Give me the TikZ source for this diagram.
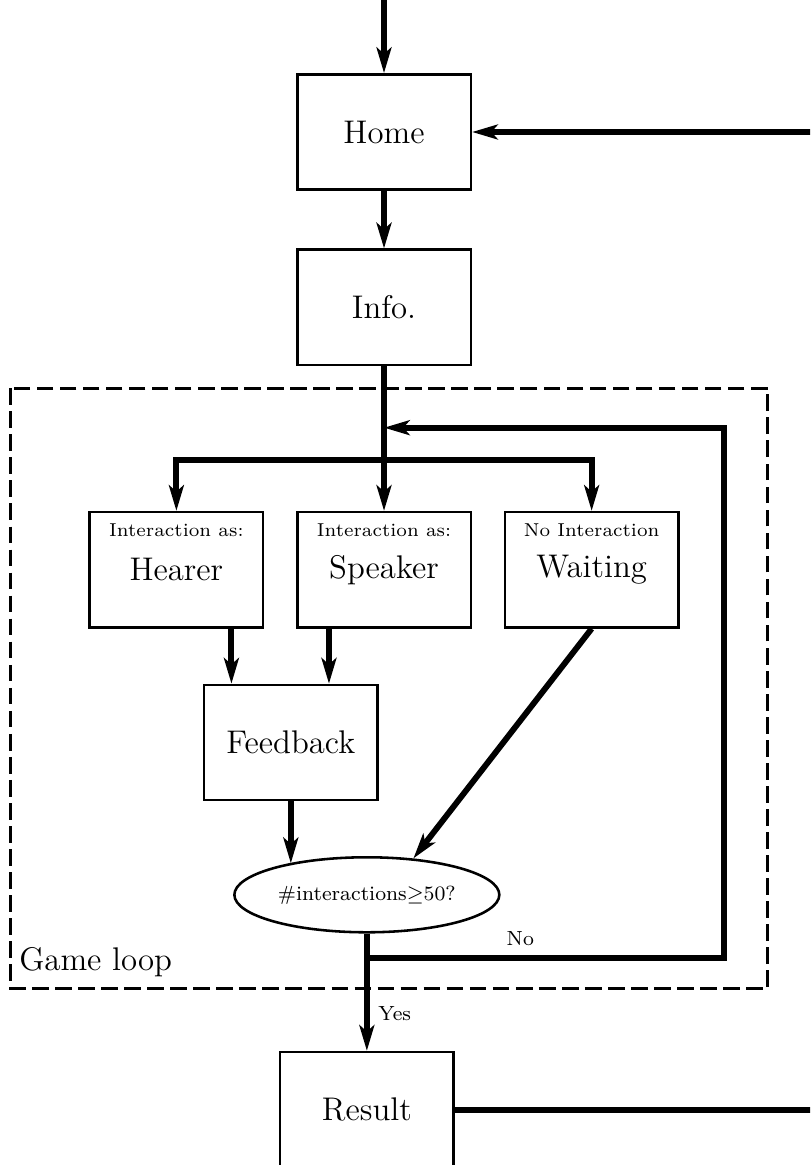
\documentclass[tikz,border=0pt]{standalone}
\usepackage{tikz}
\usetikzlibrary{arrows.meta,positioning,calc,shapes.geometric}

\begin{document}
\begin{tikzpicture}[
  box/.style={draw, line width=1pt, minimum width=67.8pt, minimum height=45pt,
              font=\fontsize{12.8}{15}\selectfont},
  role/.style={label={[font=\fontsize{7.3}{9}\selectfont, anchor=north, inner sep=3pt,
                       yshift=-2pt]north:#1}},
  decision/.style={draw, ellipse, line width=1pt, minimum width=103.5pt,
                   minimum height=29.3pt, inner sep=0pt, font=\footnotesize},
  arrow/.style={-{Stealth[length=10pt,width=5.8pt,inset=2.5pt]}, line width=2.3pt},
  plainline/.style={line width=2.3pt},
  loopframe/.style={line width=1.2pt, dash pattern=on 6.5pt off 2.5pt},
  node distance=22.5pt and 12.3pt
]
\clip (-150pt,51.56pt) rectangle (166.4pt,-403.5pt);

\node[box] (home) at (0,0) {Home};
\node[box, below=of home] (info) {Info.};
\node[box, below=56.5pt of info, role={Interaction as:}] (speaker) {Speaker};
\node[box, left=of speaker, role={Interaction as:}] (hearer) {Hearer};
\node[box, right=of speaker, role={No Interaction}] (waiting) {Waiting};
\node[box, below=21.5pt of speaker.south west, xshift=-2pt] (feedback) {Feedback};
\node[decision, below=21.3pt of feedback.south, xshift=29.7pt] (decision) {\#interactions$\geq$50?};
\node[box, below=45.8pt of decision] (result) {Result};

% helper points
\coordinate[above=30pt of home] (entry);
\coordinate[right=140pt of home] (backin);
\coordinate[right=140pt of result] (exit);
\coordinate[below=24pt of info.south] (rejoin);
\coordinate[below=36.5pt of info.south] (split);
\coordinate[below=9.4pt of decision.south] (nojoin);
\coordinate[right=17.2pt of waiting.east] (loopx);

% game loop frame
\coordinate (frame nw) at ($(hearer.west |- info.south)+(-30.5pt,-8.6pt)$);
\coordinate (frame se) at ($(waiting.east |- decision.south)+(34.4pt,-21.5pt)$);
\draw[loopframe] (frame nw) rectangle (frame se);
\node[anchor=south west, font=\fontsize{12.8}{15}\selectfont, yshift=1pt] (looplabel)
  at (frame nw |- frame se) {Game loop};

\draw[arrow] (entry) -- (home);
\draw[arrow] (backin) -- (home);
\draw[arrow] (home) -- (info);
\draw[arrow] (info) -- (speaker);
\draw[arrow] (split) -| (hearer);
\draw[arrow] (split) -| (waiting);
\draw[arrow] ([xshift=21.5pt]hearer.south) -- ([xshift=21.5pt]hearer.south |- feedback.north);
\draw[arrow] ([xshift=-21.5pt]speaker.south) -- ([xshift=-21.5pt]speaker.south |- feedback.north);
\draw[arrow] (feedback.south) -- (feedback.south |- decision.158);
\draw[arrow] (waiting.south) -- (decision.38);
\draw[arrow] (nojoin) -- node[above, pos=0.43, font=\footnotesize] {No} (nojoin -| loopx) |- (rejoin);
\draw[arrow] (decision) -- node[right, pos=0.68, font=\footnotesize] {Yes} (result);
\draw[plainline] (result) -- (exit);
\end{tikzpicture}
\end{document}
